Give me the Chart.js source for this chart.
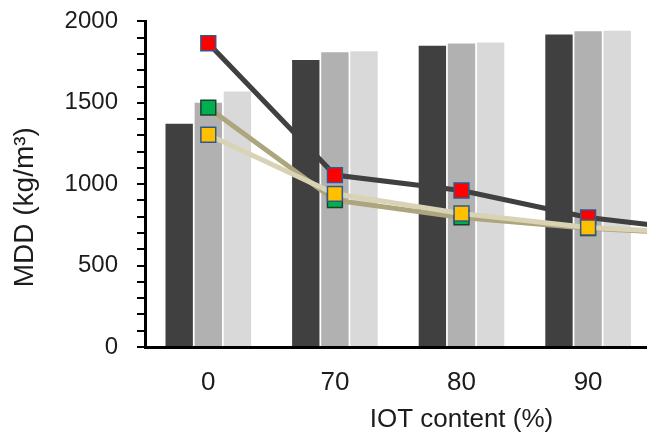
<!DOCTYPE html>
<html>
<head>
<meta charset="utf-8">
<script src="https://cdn.jsdelivr.net/npm/chart.js@4.4.1/dist/chart.umd.min.js"></script>
<style>
  html, body { margin: 0; padding: 0; background: #fff; overflow: hidden; width: 647px; height: 437px; }
  canvas { display: block; margin-top: -12px; }
</style>
</head>
<body>
<canvas id="mddChart" width="790" height="449"></canvas>
<script>
// ===== DATA =====
// the figure is cropped on the right: the last group only shows as the line ends
const categories = ['0', '70', '80', '90', '100'];
const yTicks     = [0, 500, 1000, 1500, 2000];

// bars: dark / mid grey / light grey
const barDark  = [1372, 1763, 1851, 1920, null];
const barMid   = [1500, 1810, 1865, 1939, null];
const barLight = [1570, 1816, 1871, 1943, null];

// lines with square markers
const lineRed    = [1866, 1056, 961, 796, 705];
const lineGreen  = [1470, 902, 796, 730, 690];
const lineYellow = [1304, 941, 820, 734, 695];

// ===== STYLE =====
const FONT = "'Liberation Sans', Arial, sans-serif";
const TEXT = '#1c1c1c';

const barSet = (label, data, color) => ({
  type: 'bar',
  label, data,
  backgroundColor: color,
  borderWidth: 0,
  categoryPercentage: 0.69,
  barPercentage: 0.94,
  order: 10,
});

const lineSet = (label, data, lineColor, fill, edge, order) => ({
  type: 'line',
  label, data,
  borderColor: lineColor,
  borderWidth: 5,
  tension: 0,
  pointStyle: 'rect',
  pointRadius: 10.5,
  pointBackgroundColor: fill,
  pointBorderColor: edge,
  pointBorderWidth: 1.5,
  order,
});

// y title sits a bit below the middle of the axis in the original
const yTitle = {
  id: 'yTitle',
  afterDraw(chart) {
    const { ctx, chartArea } = chart;
    ctx.save();
    ctx.translate(25, (chartArea.top + chartArea.bottom) / 2 + 23);
    ctx.rotate(-Math.PI / 2);
    ctx.font = `28px ${FONT}`;
    ctx.fillStyle = TEXT;
    ctx.textAlign = 'center';
    ctx.textBaseline = 'middle';
    ctx.fillText('MDD (kg/m³)', 0, 0);
    ctx.restore();
  }
};

new Chart(document.getElementById('mddChart'), {
  data: {
    labels: categories,
    datasets: [
      lineSet('Red', lineRed, '#404040', '#ff0000', '#34588a', 3),
      lineSet('Green', lineGreen, '#aca57d', '#00b050', '#1f3f2c', 2),
      lineSet('Yellow', lineYellow, '#d8d3b4', '#ffc000', '#34588a', 1),
      barSet('Dark', barDark, '#404040'),
      barSet('Mid', barMid, '#b1b1b1'),
      barSet('Light', barLight, '#d9d9d9'),
    ]
  },
  options: {
    responsive: false,
    animation: false,
    layout: { padding: { top: 0, left: 0, right: 10, bottom: 0 } },
    plugins: {
      legend: { display: false },
      tooltip: { enabled: false },
    },
    scales: {
      x: {
        grid: { display: false, drawTicks: false },
        border: { color: '#000', width: 3 },
        ticks: {
          color: TEXT, font: { family: FONT, size: 26 },
          padding: 20, maxRotation: 0, autoSkip: false,
        },
        title: {
          display: true, text: 'IOT content (%)', color: TEXT,
          font: { family: FONT, size: 26 }, padding: { top: 0, bottom: 2 },
        },
        afterFit: s => { s.height = 90; },
      },
      y: {
        min: 0, max: 2000,
        grid: { drawOnChartArea: false, color: '#000', tickLength: 8, lineWidth: 2 },
        border: { color: '#000', width: 3 },
        ticks: {
          stepSize: 100, autoSkip: false,
          color: TEXT, font: { family: FONT, size: 24 }, padding: 19,
          callback: v => yTicks.includes(v) ? v : '',
        },
        afterFit: s => { s.width = 145; },
      }
    }
  },
  plugins: [yTitle]
});
</script>
</body>
</html>
